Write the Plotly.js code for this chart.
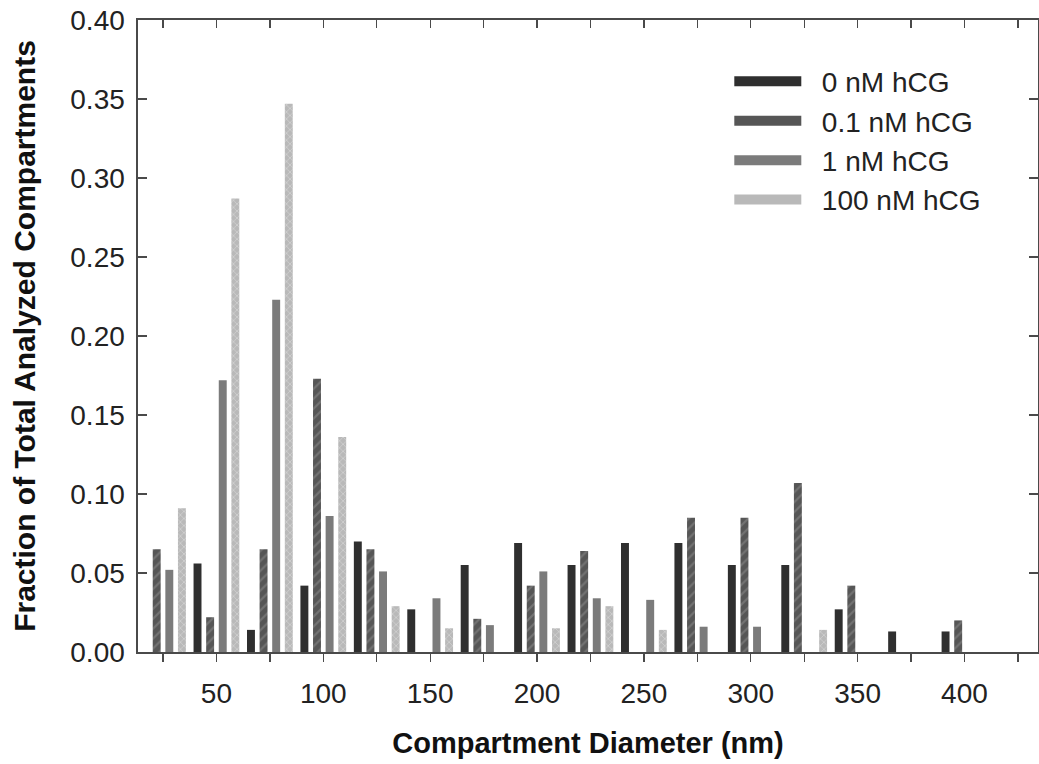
<!DOCTYPE html>
<html>
<head>
<meta charset="utf-8">
<script src="https://cdn.plot.ly/plotly-3.0.1.min.js"></script>
<style>
  html, body { margin: 0; padding: 0; background: #fff; }
  #chart { width: 1039px; height: 764px; }
</style>
</head>
<body>
<div id="chart"></div>
<script>
// Compartment diameter bins (nm), bin centres
const diameters = [25, 50, 75, 100, 125, 150, 175, 200, 225, 250, 275, 300, 325, 350, 375, 400];

// Fraction of total analyzed compartments per bin, one list per hCG dose
const hcg0   = [0,     0.056, 0.014, 0.042, 0.070, 0.027, 0.055, 0.069, 0.055, 0.069, 0.069, 0.055, 0.055, 0.027, 0.013, 0.013];
const hcg01  = [0.065, 0.022, 0.065, 0.173, 0.065, 0,     0.021, 0.042, 0.064, 0,     0.085, 0.085, 0.107, 0.042, 0,     0.020];
const hcg1   = [0.052, 0.172, 0.223, 0.086, 0.051, 0.034, 0.017, 0.051, 0.034, 0.033, 0.016, 0.016, 0,     0,     0,     0];
const hcg100 = [0.091, 0.287, 0.347, 0.136, 0.029, 0.015, 0,     0.015, 0.029, 0.014, 0,     0,     0.014, 0,     0,     0];

const seriesNames = ['0 nM hCG', '0.1 nM hCG', '1 nM hCG', '100 nM hCG'];

// Axis ticks: every 25 nm, labelled every 50 nm
const xTickVals = [25, 50, 75, 100, 125, 150, 175, 200, 225, 250, 275, 300, 325, 350, 375, 400, 425];
const xTickText = ['', '50', '', '100', '', '150', '', '200', '', '250', '', '300', '', '350', '', '400', ''];

const seriesValues = [hcg0, hcg01, hcg1, hcg100];
const colors = ['#2f2f2f', '#565656', '#7b7b7b', '#b9b9b9'];
const patterns = [
  { shape: '' },
  { shape: '/', fillmode: 'overlay', fgcolor: '#7a7a7a', fgopacity: 0.8, size: 7, solidity: 0.3 },
  { shape: '' },
  { shape: 'x', fillmode: 'overlay', fgcolor: '#d6d6d6', fgopacity: 0.8, size: 5, solidity: 0.3 }
];

const X_RANGE = [13.3, 434.4];
const FONT = 'Liberation Sans, Arial, sans-serif';
const PAD = '\u00a0\u00a0';

const traces = [];
seriesValues.forEach((vals, i) => {
  traces.push({
    type: 'bar',
    x: diameters,
    y: vals,
    name: seriesNames[i],
    showlegend: false,
    marker: { color: colors[i], pattern: patterns[i], line: { width: 0 } },
    hoverinfo: 'x+y+name'
  });
});

// Legend keys: empty line traces give wide rectangular swatches
seriesNames.forEach((name, i) => {
  traces.push({
    type: 'scatter',
    mode: 'lines',
    x: [null],
    y: [null],
    xaxis: 'x2',
    name: PAD + name,
    line: { color: colors[i], width: 17 },
    showlegend: true,
    hoverinfo: 'skip'
  });
});

const axisLine = '#4a4a4a';

const layout = {
  width: 1039,
  height: 764,
  margin: { l: 138, r: 1, t: 20, b: 112 },
  paper_bgcolor: '#ffffff',
  plot_bgcolor: '#ffffff',
  font: { family: FONT, color: '#222' },
  barmode: 'group',
  bargap: 0.056,
  bargroupgap: 0.37,
  showlegend: true,
  legend: {
    x: 0.657, y: 0.942,
    xanchor: 'left', yanchor: 'top',
    bgcolor: 'rgba(0,0,0,0)',
    borderwidth: 0,
    itemwidth: 67,
    tracegroupgap: 0,
    font: { family: FONT, size: 28, color: '#222' }
  },
  xaxis: {
    range: X_RANGE,
    tickmode: 'array',
    tickvals: xTickVals,
    ticktext: xTickText,
    ticks: 'outside',
    ticklen: 8,
    tickwidth: 1.3,
    tickcolor: axisLine,
    ticklabelstandoff: 8,
    showline: true,
    linecolor: axisLine,
    linewidth: 1.6,
    mirror: true,
    showgrid: false,
    zeroline: false,
    tickfont: { family: FONT, size: 28, color: '#222' },
    title: {
      text: '<b>Compartment Diameter (nm)</b>',
      font: { family: FONT, size: 29, color: '#111' },
      standoff: 24
    }
  },
  xaxis2: {
    overlaying: 'x',
    side: 'top',
    anchor: 'y',
    range: X_RANGE,
    tickmode: 'array',
    tickvals: xTickVals,
    ticks: 'inside',
    ticklen: 8,
    tickwidth: 1.3,
    tickcolor: axisLine,
    showticklabels: false,
    showline: false,
    showgrid: false,
    zeroline: false
  },
  yaxis: {
    range: [0, 0.40],
    dtick: 0.05,
    tick0: 0,
    tickformat: '.2f',
    ticks: 'inside',
    ticklen: 9,
    tickwidth: 1.3,
    tickcolor: axisLine,
    ticklabelstandoff: 6,
    showline: true,
    linecolor: axisLine,
    linewidth: 1.6,
    mirror: 'ticks',
    showgrid: false,
    zeroline: false,
    tickfont: { family: FONT, size: 28, color: '#222' },
    title: {
      text: '<b>Fraction of Total Analyzed Compartments</b>',
      font: { family: FONT, size: 30, color: '#111' },
      standoff: 26
    }
  }
};

Plotly.newPlot('chart', traces, layout, { staticPlot: true, displayModeBar: false });
</script>
</body>
</html>
